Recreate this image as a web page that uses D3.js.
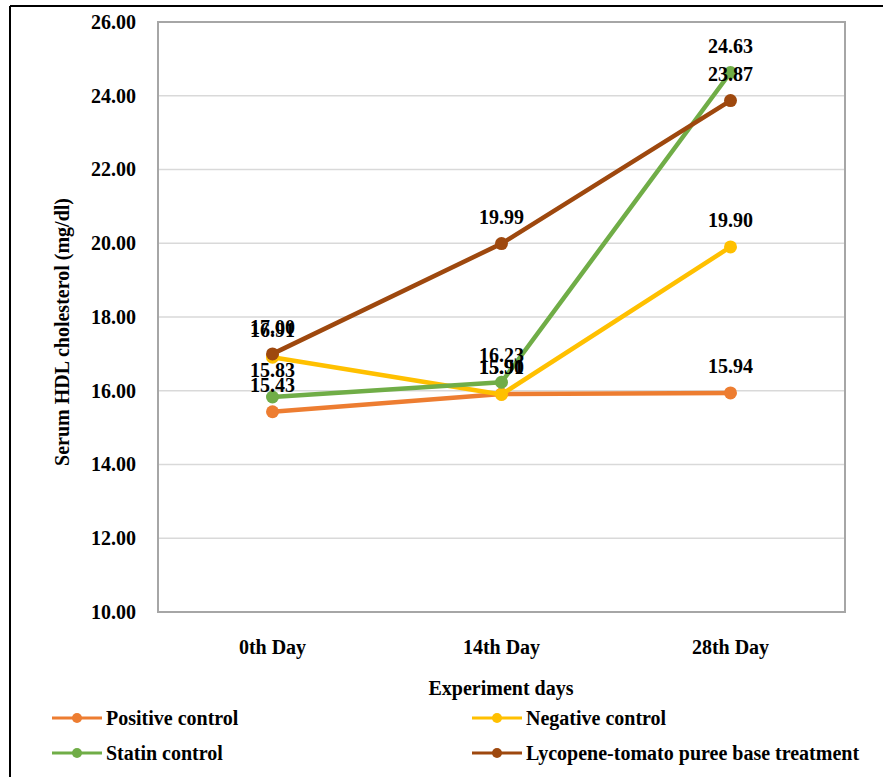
<!DOCTYPE html>
<html><head><meta charset="utf-8">
<script src="https://cdn.jsdelivr.net/npm/d3@7/dist/d3.min.js"></script>
<style>body{margin:0;background:#fff}svg{display:block}</style>
</head><body>
<svg id="c" width="883" height="777"></svg>
<script>
const days = ["0th Day", "14th Day", "28th Day"];
const seriesNames = ["Positive control", "Negative control", "Statin control", "Lycopene-tomato puree base treatment"];
const positiveControl = [15.43, 15.91, 15.94];
const negativeControl = [16.91, 15.90, 19.90];
const statinControl = [15.83, 16.23, 24.63];
const lycopeneTreatment = [17.00, 19.99, 23.87];
const yTicks = [10, 12, 14, 16, 18, 20, 22, 24, 26];
const colors = ["#ED7D31", "#FFC000", "#70AD47", "#9E480E"];

const series = [positiveControl, negativeControl, statinControl, lycopeneTreatment]
  .map((v, i) => ({name: seriesNames[i], values: v, color: colors[i]}));

const svg = d3.select("#c");
const font = "'Liberation Serif','Times New Roman',serif";
const L = 158, T = 22, R = 845, B = 612;

// outer frame
svg.append("line").attr("x1",10).attr("x2",10).attr("y1",6).attr("y2",777).attr("stroke","#000").attr("stroke-width",2);
svg.append("line").attr("x1",10).attr("x2",883).attr("y1",6).attr("y2",6).attr("stroke","#000").attr("stroke-width",2);

const x = d3.scaleBand().domain(days).range([L, R]);
const y = d3.scaleLinear().domain([10, 26]).range([B, T]);

// gridlines
svg.append("g").selectAll("line").data(yTicks.filter(t => t > 10 && t < 26)).join("line")
  .attr("x1", L).attr("x2", R).attr("y1", d => y(d)).attr("y2", d => y(d))
  .attr("stroke", "#d9d9d9").attr("stroke-width", 1.5);
// plot border
svg.append("rect").attr("x", L).attr("y", T).attr("width", R - L).attr("height", B - T)
  .attr("fill", "none").attr("stroke", "#a6a6a6").attr("stroke-width", 2);

// y axis
const yAxis = svg.append("g").attr("transform", `translate(${L},0)`)
  .call(d3.axisLeft(y).tickValues(yTicks).tickFormat(d3.format(".2f")).tickSize(0).tickPadding(22));
yAxis.select(".domain").remove();
yAxis.selectAll("text").attr("font-family", font).attr("font-weight", "bold").attr("font-size", 20).attr("fill", "#000");

// x axis
const xAxis = svg.append("g").attr("transform", `translate(0,${B})`)
  .call(d3.axisBottom(x).tickSize(0).tickPadding(28));
xAxis.select(".domain").remove();
xAxis.selectAll("text").attr("font-family", font).attr("font-weight", "bold").attr("font-size", 20).attr("fill", "#000");

// axis titles
svg.append("text").attr("transform", `translate(69,332) rotate(-90)`)
  .attr("text-anchor", "middle").attr("font-family", font).attr("font-weight", "bold").attr("font-size", 20)
  .text("Serum HDL cholesterol (mg/dl)");
svg.append("text").attr("x", 501).attr("y", 695)
  .attr("text-anchor", "middle").attr("font-family", font).attr("font-weight", "bold").attr("font-size", 20)
  .text("Experiment days");

const cx = d => x(d) + x.bandwidth() / 2;
const line = d3.line().x((d, i) => cx(days[i])).y(d => y(d));

const g = svg.append("g");
series.forEach(s => {
  g.append("path").attr("d", line(s.values)).attr("fill", "none")
    .attr("stroke", s.color).attr("stroke-width", 4.5).attr("stroke-linejoin", "round");
  g.selectAll(null).data(s.values).join("circle")
    .attr("cx", (d, i) => cx(days[i])).attr("cy", d => y(d)).attr("r", 6.5).attr("fill", s.color);
});
series.forEach(s => {
  g.selectAll(null).data(s.values).join("text")
    .attr("x", (d, i) => cx(days[i])).attr("y", d => y(d) - 20)
    .attr("text-anchor", "middle").attr("font-family", font).attr("font-weight", "bold").attr("font-size", 20)
    .attr("fill", "#000").text(d => d.toFixed(2));
});

// legend
const legPos = [[52, 718], [472, 718], [52, 753], [472, 753]];
series.forEach((s, i) => {
  const [lx, ly] = legPos[i];
  const lg = svg.append("g").attr("transform", `translate(${lx},${ly})`);
  lg.append("line").attr("x1", 0).attr("x2", 50).attr("y1", 0).attr("y2", 0).attr("stroke", s.color).attr("stroke-width", 3);
  lg.append("circle").attr("cx", 25).attr("cy", 0).attr("r", 5).attr("fill", s.color);
  lg.append("text").attr("x", 54).attr("y", 7).attr("font-family", font).attr("font-weight", "bold").attr("font-size", 20)
    .attr("fill", "#000").text(s.name);
});
</script>
</body></html>
